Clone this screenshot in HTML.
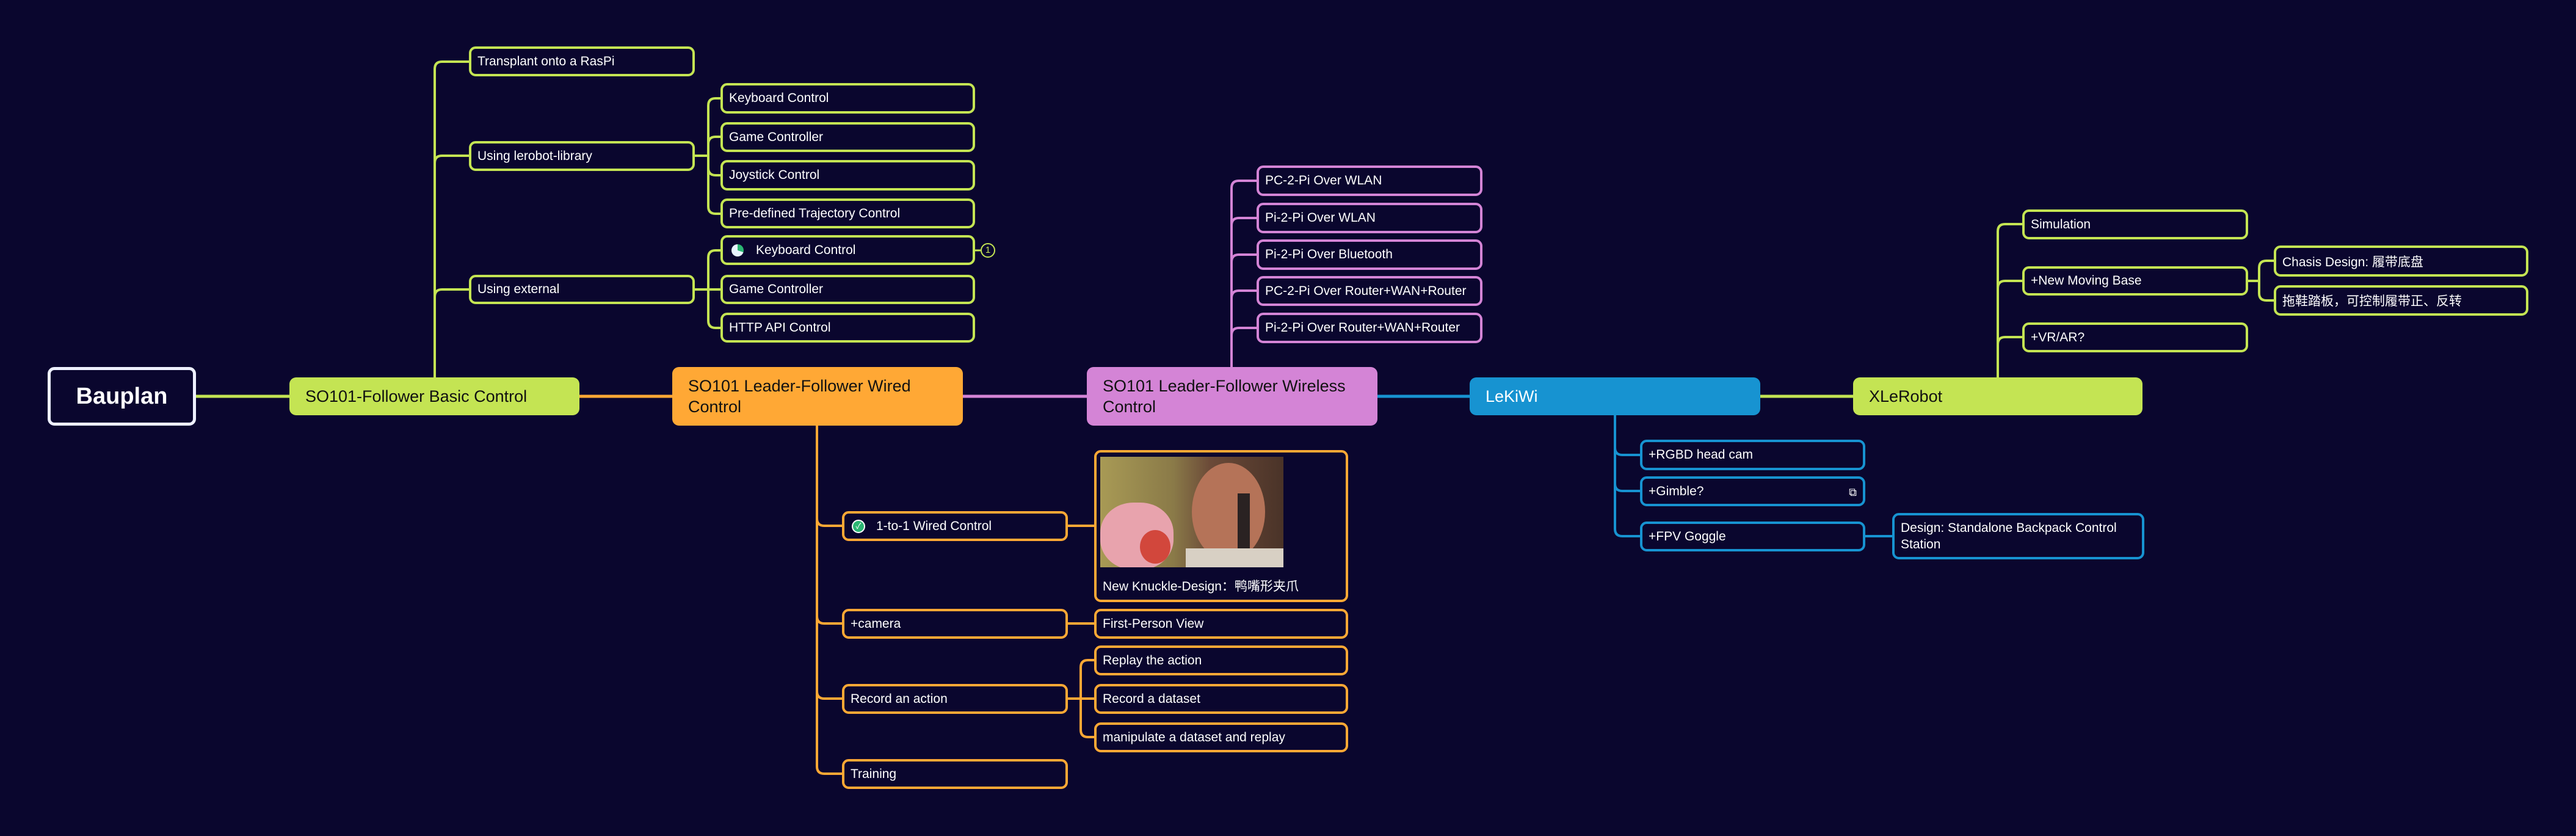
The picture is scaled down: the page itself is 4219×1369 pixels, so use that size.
<!DOCTYPE html>
<html><head><meta charset="utf-8">
<style>
html,body{margin:0;padding:0;background:#0a062e;}
body{width:4219px;height:1369px;position:relative;overflow:hidden;font-family:"Liberation Sans","Noto Sans CJK SC",sans-serif;}
.n{position:absolute;box-sizing:border-box;border:4px solid;border-radius:11px;color:#fff;font-size:21px;display:flex;align-items:center;padding-left:10px;background:#0a062e;white-space:nowrap;}
.g{border-color:#c4e453}.o{border-color:#ffa835}.p{border-color:#d484d6}.b{border-color:#1793d1}
.m{position:absolute;box-sizing:border-box;border-radius:11px;font-size:27px;display:flex;align-items:center;padding-left:26px;line-height:34px;}
svg{position:absolute;left:0;top:0}
</style></head><body>
<svg id="s" width="4219" height="1369"></svg>

<div class="m" style="left:78px;top:601px;width:243px;height:96px;border:5px solid #eef0ff;background:#0a062e;color:#fff;font-weight:bold;font-size:38px;justify-content:center;padding-left:0">Bauplan</div>
<div class="m" style="left:474px;top:618px;width:475px;height:62px;background:#c4e453;color:#111">SO101-Follower Basic Control</div>
<div class="m" style="left:1101px;top:601px;width:476px;height:96px;background:#ffa835;color:#111">SO101 Leader-Follower Wired<br>Control</div>
<div class="m" style="left:1780px;top:601px;width:476px;height:96px;background:#d484d6;color:#111">SO101 Leader-Follower Wireless<br>Control</div>
<div class="m" style="left:2407px;top:618px;width:476px;height:62px;background:#1793d1;color:#fff">LeKiWi</div>
<div class="m" style="left:3035px;top:618px;width:474px;height:62px;background:#c4e453;color:#111">XLeRobot</div>

<!-- follower -->
<div class="n g" style="left:768px;top:76px;width:370px;height:49px">Transplant onto a RasPi</div>
<div class="n g" style="left:768px;top:231px;width:370px;height:49px">Using lerobot-library</div>
<div class="n g" style="left:768px;top:450px;width:370px;height:48px">Using external</div>
<div class="n g" style="left:1180px;top:136px;width:417px;height:50px">Keyboard Control</div>
<div class="n g" style="left:1180px;top:200px;width:417px;height:49px">Game Controller</div>
<div class="n g" style="left:1180px;top:262px;width:417px;height:50px">Joystick Control</div>
<div class="n g" style="left:1180px;top:325px;width:417px;height:49px">Pre-defined Trajectory Control</div>
<div class="n g" style="left:1180px;top:385px;width:417px;height:49px"><span style="display:inline-block;width:20px;height:20px;border-radius:50%;background:conic-gradient(#2bb673 0 30%,#e8f4ff 30% 100%);margin-right:20px;margin-left:4px"></span>Keyboard Control</div>
<div style="position:absolute;left:1606px;top:398px;width:20px;height:20px;border:2px solid #c4e453;border-radius:50%;color:#c4e453;font-size:15px;text-align:center;line-height:20px">1</div>
<div class="n g" style="left:1180px;top:450px;width:417px;height:48px">Game Controller</div>
<div class="n g" style="left:1180px;top:512px;width:417px;height:49px">HTTP API Control</div>

<!-- wired -->
<div class="n o" style="left:1379px;top:837px;width:370px;height:49px"><span style="display:inline-block;width:22px;height:22px;border-radius:50%;background:#2bb673;border:2px solid #fff;box-sizing:border-box;color:#fff;font-size:13px;text-align:center;line-height:18px;margin-right:18px;margin-left:2px">✓</span>1-to-1 Wired Control</div>
<div class="n o" style="left:1379px;top:997px;width:370px;height:49px">+camera</div>
<div class="n o" style="left:1379px;top:1120px;width:370px;height:49px">Record an action</div>
<div class="n o" style="left:1379px;top:1243px;width:370px;height:49px">Training</div>
<div class="n o" style="left:1792px;top:737px;width:416px;height:249px;align-items:flex-end;padding-bottom:8px">New Knuckle-Design：鸭嘴形夹爪</div>
<div style="position:absolute;left:1802px;top:748px;width:300px;height:181px;background:linear-gradient(90deg,#a89a55 0%,#8a7a48 40%,#6b4a38 60%,#4a3328 100%);overflow:hidden">
  <div style="position:absolute;left:150px;top:10px;width:120px;height:160px;border-radius:50%;background:#b57358"></div>
  <div style="position:absolute;left:225px;top:60px;width:20px;height:130px;background:#2a2222"></div>
  <div style="position:absolute;left:0;top:75px;width:120px;height:110px;border-radius:45%;background:#e8a3ad"></div>
  <div style="position:absolute;left:65px;top:120px;width:50px;height:55px;border-radius:50%;background:#d2473c"></div>
  <div style="position:absolute;left:140px;top:150px;width:160px;height:40px;background:#d8d0c4"></div>
</div>
<div class="n o" style="left:1792px;top:997px;width:416px;height:49px">First-Person View</div>
<div class="n o" style="left:1792px;top:1057px;width:416px;height:49px">Replay the action</div>
<div class="n o" style="left:1792px;top:1120px;width:416px;height:49px">Record a dataset</div>
<div class="n o" style="left:1792px;top:1183px;width:416px;height:49px">manipulate a dataset and replay</div>

<!-- wireless -->
<div class="n p" style="left:2058px;top:271px;width:370px;height:50px">PC-2-Pi Over WLAN</div>
<div class="n p" style="left:2058px;top:332px;width:370px;height:50px">Pi-2-Pi Over WLAN</div>
<div class="n p" style="left:2058px;top:392px;width:370px;height:50px">Pi-2-Pi Over Bluetooth</div>
<div class="n p" style="left:2058px;top:452px;width:370px;height:49px">PC-2-Pi Over Router+WAN+Router</div>
<div class="n p" style="left:2058px;top:512px;width:370px;height:50px">Pi-2-Pi Over Router+WAN+Router</div>

<!-- lekiwi -->
<div class="n b" style="left:2686px;top:720px;width:369px;height:50px">+RGBD head cam</div>
<div class="n b" style="left:2686px;top:780px;width:369px;height:49px">+Gimble?<span style="position:absolute;right:10px;top:12px;font-size:18px">⧉</span></div>
<div class="n b" style="left:2686px;top:854px;width:369px;height:49px">+FPV Goggle</div>
<div class="n b" style="left:3099px;top:840px;width:413px;height:76px;white-space:normal;line-height:27px;padding-right:8px">Design: Standalone Backpack Control Station</div>

<!-- xlerobot -->
<div class="n g" style="left:3312px;top:343px;width:370px;height:49px">Simulation</div>
<div class="n g" style="left:3312px;top:436px;width:370px;height:48px">+New Moving Base</div>
<div class="n g" style="left:3312px;top:528px;width:370px;height:49px">+VR/AR?</div>
<div class="n g" style="left:3724px;top:402px;width:417px;height:51px">Chasis Design: 履带底盘</div>
<div class="n g" style="left:3724px;top:467px;width:417px;height:50px">拖鞋踏板，可控制履带正、反转</div>

<script>
var s=document.getElementById('s'),h='';
function L(c,x1,y1,x2,y2,w){h+='<line x1="'+x1+'" y1="'+y1+'" x2="'+x2+'" y2="'+y2+'" stroke="'+c+'" stroke-width="'+(w||4)+'"/>';}
function T(c,px,py,tx,cx,ys){ // parent point (px,py) to trunk x tx, children left cx at ys
  var r=12;L(c,px,py,tx,py);
  ys.forEach(function(y){var d=y<py?-1:1;if(Math.abs(y-py)<2){L(c,tx,py,cx,y);return;}
   h+='<path d="M'+tx+' '+py+' L'+tx+' '+(y-d*r)+' Q'+tx+' '+y+' '+(tx+r)+' '+y+' L'+cx+' '+y+'" fill="none" stroke="'+c+'" stroke-width="4"/>';});
}
function V(c,tx,y0,cx,ys){var r=12;ys.forEach(function(y){var d=y<y0?-1:1;
  h+='<path d="M'+tx+' '+y0+' L'+tx+' '+(y-d*r)+' Q'+tx+' '+y+' '+(tx+r)+' '+y+' L'+cx+' '+y+'" fill="none" stroke="'+c+'" stroke-width="4"/>';});}
var G='#c4e453',O='#ffa835',P='#d484d6',B='#1793d1';
L(G,321,649,474,649,5);L(O,949,649,1101,649,5);L(P,1577,649,1780,649,5);L(B,2256,649,2407,649,5);L(G,2883,649,3035,649,5);
V(G,712,618,768,[101,255,474]);
T(G,1138,255,1160,1180,[161,224,287,350]);
T(G,1138,474,1160,1180,[410,474,537]);
L(G,1597,410,1606,410,3);
V(O,1338,697,1379,[861,1021,1144,1267]);
L(O,1749,861,1792,861);L(O,1749,1021,1792,1021);
T(O,1749,1144,1770,1792,[1081,1144,1207]);
V(P,2017,601,2058,[296,357,417,476,537]);
V(B,2645,680,2686,[745,804,878]);
L(B,3055,878,3099,878);
V(G,3272,618,3312,[367,460,552]);
T(G,3682,460,3700,3724,[427,492]);
s.innerHTML=h;
</script>
</body></html>
